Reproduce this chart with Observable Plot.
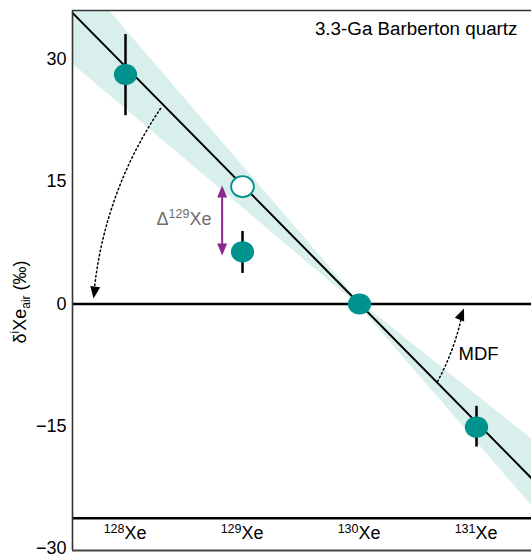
<!DOCTYPE html>
<html><head><meta charset="utf-8">
<script src="https://cdn.jsdelivr.net/npm/d3@7"></script>
<script src="https://cdn.jsdelivr.net/npm/@observablehq/plot@0.6"></script>
<style>html,body{margin:0;padding:0;background:#fff;overflow:hidden}</style>
</head><body><div id="chart"></div>
<script>
// ---- data ----
const isotopeMass = [128, 129, 130, 131];
const isotopeLabel = ["128", "129", "130", "131"];

const pointMass = [128, 129, 130, 131];
const pointValue = [28.15, 6.4, 0, -15.1];
const errLow = [23.1, 3.75, 0, -17.55];
const errHigh = [33.05, 8.9, 0, -12.55];

const openMass = [129];
const openValue = [14.4];

const fitMass = [127.5, 131.5];
const fitValue = [36.4, -21.8];

const bandMass = [127.5, 130, 131.5];
const bandLow = [30.0, -0.3, -25.2];
const bandHigh = [42.0, 0.3, -16.9];

const yTicks = [30, 15, 0, -15, -30];
const yTickLabels = ["30", "15", "0", "\u221215", "\u221230"];

const labelRowValue = -26.27;   // separator line above isotope labels
const frameX = [127.547, 131.47];
const frameY = [-30.23, 36.0];

// annotations
const curveX1 = [128.30, 130.667];
const curveY1 = [23.98, -9.5];
const curveX2 = [127.735, 130.872];
const curveY2 = [2.0, -1.6];
const headX = [127.727, 130.893, 128.826, 128.826];
const headY = [0.67, -0.55, 14.53, 5.95];
const headRotate = [188, 22, 0, 180];
const headColor = ["#000", "#000", "#8a2b8c", "#8a2b8c"];
const deltaArrowX = [128.826];
const deltaArrowY1 = [13.6];
const deltaArrowY2 = [6.9];

const titleText = ["3.3-Ga Barberton quartz"];
const titleX = [131.35], titleY = [33.7];
const mdfText = ["MDF"], mdfX = [130.846], mdfY = [-6.13];
const deltaX = [128.265], deltaY = [10.4];

// ---- styles ----
const teal = "#00938e";
const bandFill = "#d9efec";
const font = "'Liberation Sans', Arial, Helvetica, sans-serif";

const ellipse = (kx, ky) => ({
  draw(ctx, size) {
    const s = Math.sqrt(size / Math.PI), rx = s * kx, ry = s * ky, k = 0.5523;
    ctx.moveTo(rx, 0);
    ctx.bezierCurveTo(rx, ry * k, rx * k, ry, 0, ry);
    ctx.bezierCurveTo(-rx * k, ry, -rx, ry * k, -rx, 0);
    ctx.bezierCurveTo(-rx, -ry * k, -rx * k, -ry, 0, -ry);
    ctx.bezierCurveTo(rx * k, -ry, rx, -ry * k, rx, 0);
    ctx.closePath();
  }
});
const head = {
  draw(ctx, size) {
    const s = Math.sqrt(size / Math.PI);
    ctx.moveTo(0, 0);
    ctx.lineTo(-1.25 * s, 3 * s);
    ctx.lineTo(1.25 * s, 3 * s);
    ctx.closePath();
  }
};

const idx = (a) => a.map((_, i) => i);
const errIdx = idx(pointMass).filter(i => errHigh[i] !== errLow[i]);

const plot = Plot.plot({
  width: 531, height: 554,
  marginLeft: 72, marginRight: 0, marginTop: 10, marginBottom: 4,
  style: {fontFamily: font, fontSize: "18px", background: "#fff", color: "#000"},
  x: {domain: frameX, axis: null},
  y: {domain: frameY},
  marks: [
    Plot.areaY(idx(bandMass), {x: i => bandMass[i], y1: i => bandLow[i], y2: i => bandHigh[i], fill: bandFill, clip: true}),
    Plot.line(idx(fitMass), {x: i => fitMass[i], y: i => fitValue[i], stroke: "#000", strokeWidth: 2, clip: true}),
    Plot.ruleY([0], {stroke: "#000", strokeWidth: 2.5}),
    Plot.ruleY([labelRowValue], {stroke: "#000", strokeWidth: 2.5}),
    Plot.ruleX(errIdx, {x: i => pointMass[i], y1: i => errLow[i], y2: i => errHigh[i], stroke: "#000", strokeWidth: 2.5}),
    Plot.dot(idx(pointMass), {x: i => pointMass[i], y: i => pointValue[i], r: 11, symbol: ellipse(1.06, 0.96), fill: teal, stroke: "none"}),
    Plot.dot(idx(openMass), {x: i => openMass[i], y: i => openValue[i], r: 11, symbol: ellipse(1.04, 0.95), fill: "#fff", stroke: teal, strokeWidth: 1.8}),
    Plot.arrow([0], {x1: i => curveX1[i], y1: i => curveY1[i], x2: i => curveX2[i], y2: i => curveY2[i], bend: -14, headLength: 0, stroke: "#000", strokeWidth: 1.5, strokeDasharray: "1.5,2.8"}),
    Plot.arrow([1], {x1: i => curveX1[i], y1: i => curveY1[i], x2: i => curveX2[i], y2: i => curveY2[i], bend: -8, headLength: 0, stroke: "#000", strokeWidth: 1.5, strokeDasharray: "1.5,2.8"}),
    Plot.ruleX(idx(deltaArrowX), {x: i => deltaArrowX[i], y1: i => deltaArrowY1[i], y2: i => deltaArrowY2[i], stroke: "#8a2b8c", strokeWidth: 2}),
    Plot.dot(idx(headX), {x: i => headX[i], y: i => headY[i], rotate: i => headRotate[i], r: 4, symbol: head, fill: i => headColor[i], stroke: "none"}),
    // isotope labels
    Plot.text(idx(isotopeMass), {x: i => isotopeMass[i], y: labelRowValue - 1.9, text: i => isotopeLabel[i], textAnchor: "end", dx: -1, dy: -5, fontSize: 12.5}),
    Plot.text(idx(isotopeMass), {x: i => isotopeMass[i], y: labelRowValue - 1.9, text: () => "Xe", textAnchor: "start", dx: -1, fontSize: 18}),
    // annotations
    Plot.text(titleText, {x: titleX, y: titleY, textAnchor: "end", fontSize: 18.8}),
    Plot.text(mdfText, {x: mdfX, y: mdfY, textAnchor: "start", fontSize: 18.5}),
    Plot.text(["\u0394"], {x: deltaX, y: deltaY, textAnchor: "start", fontSize: 18, fill: "#6e6e6e"}),
    Plot.text(["129"], {x: deltaX, y: deltaY, textAnchor: "start", dx: 12, dy: -5, fontSize: 12.5, fill: "#6e6e6e"}),
    Plot.text(["Xe"], {x: deltaX, y: deltaY, textAnchor: "start", dx: 33, fontSize: 18, fill: "#6e6e6e"}),
    // frame
    Plot.ruleX([frameX[0]], {stroke: "#333", strokeWidth: 1.6}),
    Plot.ruleY([frameY[1]], {stroke: "#333", strokeWidth: 1.6}),
    Plot.ruleY([frameY[0]], {stroke: "#444", strokeWidth: 2}),
    Plot.axisY({ticks: yTicks, tickFormat: (d) => yTickLabels[yTicks.indexOf(d)], tickSize: 0, tickPadding: 6, fontSize: 18, label: null})
  ]
});

const svg = d3.select(plot);
const t = svg.append("text")
  .attr("transform", "translate(26,302) rotate(-90)")
  .attr("text-anchor", "middle")
  .attr("font-family", font).attr("font-size", 18).attr("fill", "#000");
t.append("tspan").text("\u03b4");
t.append("tspan").attr("font-size", 12).attr("dy", -7).text("i");
t.append("tspan").attr("font-size", 18).attr("dy", 7).text("Xe");
t.append("tspan").attr("font-size", 12).attr("dy", 4).text("air");
t.append("tspan").attr("font-size", 18).attr("dy", -4).text(" (\u2030)");

document.getElementById("chart").appendChild(plot);
</script>
</body></html>
